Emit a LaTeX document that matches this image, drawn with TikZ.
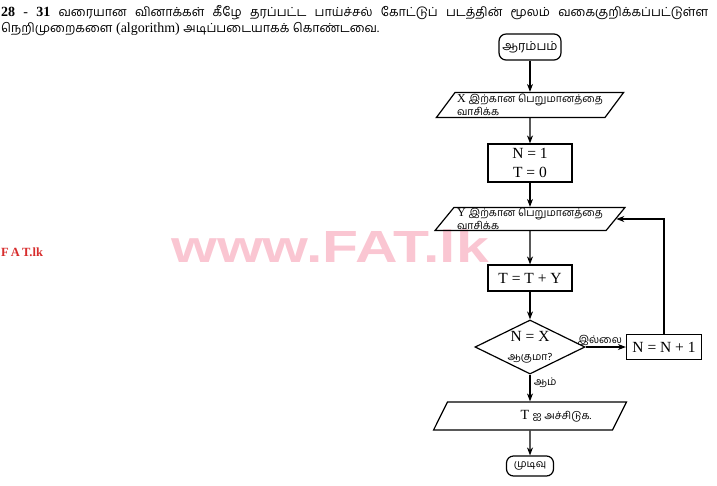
\documentclass[tikz,border=0pt]{standalone}
\usepackage{fontspec}
\setmainfont{Liberation Serif}
\newfontfamily\tamil[Script=Tamil]{Hind Madurai}
\newfontfamily\wmfont{Liberation Sans}
\usetikzlibrary{shapes.geometric, arrows.meta, positioning}
\definecolor{wmpink}{RGB}{250,198,210}
\definecolor{fatred}{RGB}{215,45,45}
\newcommand{\ta}[1]{{\tamil\fontsize{12.5}{17}\selectfont #1}}
\newcommand{\tb}[1]{{\tamil\fontsize{10.5}{12}\selectfont #1}}
\tikzstyle{startstop} = [rectangle, rounded corners=7pt, minimum width=52pt, minimum height=26pt, text centered, draw=black, line width=1.2pt]
\tikzstyle{io} = [trapezium, trapezium left angle=50, trapezium right angle=130, trapezium stretches=true, minimum width=190pt, minimum height=24pt, align=left, draw=black, line width=1.2pt, inner xsep=2pt, inner ysep=0.5pt, font=\fontsize{12}{12.5}\selectfont]
\tikzstyle{process} = [rectangle, minimum width=84pt, minimum height=26pt, text centered, align=center, draw=black, line width=1.2pt]
\tikzstyle{decision} = [diamond, minimum width=110pt, minimum height=53pt, aspect=2, inner sep=0pt, align=center, draw=black, line width=1.2pt]
\tikzstyle{arrow} = [line width=1.2pt, ->, >={Stealth[length=8pt, width=6pt]}]

\begin{document}
\begin{tikzpicture}[x=1pt, y=1pt, node distance=58pt, font=\fontsize{15.5}{19}\selectfont]
\useasboundingbox (0,0) rectangle (717,-485);

% Watermark
\node (wm) [text=wmpink, inner sep=0] at (330,-246) {\wmfont\bfseries\fontsize{46}{46}\selectfont\scalebox{1.28}[0.98]{www.FAT.lk}};
\node (fat) [text=fatred, anchor=west, inner sep=0] at (1,-252) {\bfseries\fontsize{12.5}{12}\selectfont F\,A\,T.lk};

% Heading
\node (head1) [anchor=north west, inner sep=0] at (1,-5) {\makebox[707pt][s]{\fontsize{14}{17}\selectfont\textbf{28} - \textbf{31} \ta{வரையான} \ta{வினாக்கள்} \ta{கீழே} \ta{தரப்பட்ட} \ta{பாய்ச்சல்} \ta{கோட்டுப்} \ta{படத்தின்} \ta{மூலம்} \ta{வகைகுறிக்கப்பட்டுள்ள}}};
\node (head2) [anchor=north west, inner sep=0] at (1,-22) {\fontsize{14}{17}\selectfont\ta{நெறிமுறைகளை} (algorithm) \ta{அடிப்படையாகக்} \ta{கொண்டவை.}};

% Nodes
\node (start) [startstop] at (530,-47) {\ta{ஆரம்பம்}};
\node (readx) [io, below of=start, minimum width=183pt, minimum height=25pt] {X \tb{இற்கான பெறுமானத்தை}\\\tb{வாசிக்க}};
\node (init) [process, below of=readx, minimum height=38pt] {N = 1\\T = 0};
\node (ready) [io, below of=init, yshift=2pt, minimum height=23pt] {Y \tb{இற்கான பெறுமானத்தை}\\\tb{வாசிக்க}};
\node (sum) [process, below of=ready, yshift=-1pt] {T = T + Y};
\node (check) [decision, below of=sum, yshift=-11pt] {N = X\\\tb{ஆகுமா?}};
\node (incr) [process, right of=check, xshift=76pt, minimum width=75pt, minimum height=25pt] {N = N + 1};
\node (print) [io, below of=check, yshift=-11pt, minimum width=193pt, minimum height=28pt, font=\fontsize{14}{14}\selectfont] {\hspace*{52pt}T \tb{ஐ அச்சிடுக.}};
\node (stop) [startstop, below of=print, yshift=8pt, minimum width=47pt, minimum height=20pt] {\tb{முடிவு}};

% Arrows
\draw [arrow] (start) -- (readx);
\draw [arrow] (readx) -- (init);
\draw [arrow] (init) -- (ready);
\draw [arrow] (ready) -- (sum);
\draw [arrow] (sum) -- (check);
\draw [arrow] (check) -- node[above, pos=0.35, inner sep=1pt] {\tb{இல்லை}} (incr);
\draw [arrow] (incr) |- (ready.east);
\draw [arrow] (check) -- node[right, pos=0.3] {\tb{ஆம்}} (print);
\draw [arrow] (print) -- (stop);

\end{tikzpicture}
\end{document}
